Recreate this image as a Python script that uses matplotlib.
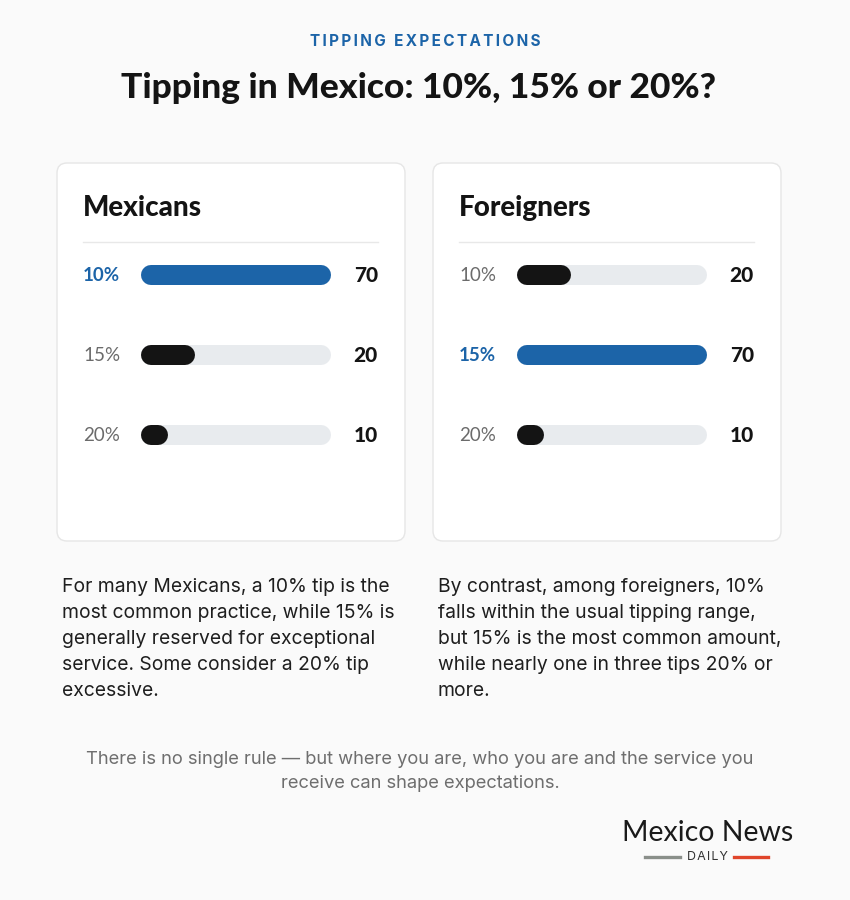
import matplotlib.pyplot as plt
from matplotlib.patches import FancyBboxPatch
from matplotlib import transforms

# data
tiers = ["10%", "15%", "20%"]
mexicans = [70, 20, 10]
foreigners = [20, 70, 10]
groups = ["Mexicans", "Foreigners"]

left_note = ["For many Mexicans, a 10% tip is the",
             "most common practice, while 15% is",
             "generally reserved for exceptional",
             "service. Some consider a 20% tip",
             "excessive."]
right_note = ["By contrast, among foreigners, 10%",
              "falls within the usual tipping range,",
              "but 15% is the most common amount,",
              "while nearly one in three tips 20% or",
              "more."]
footer = ["There is no single rule \u2014 but where you are, who you are and the service you",
          "receive can shape expectations."]

BLUE = "#1c64a8"
BLACK = "#141414"
TRACK = "#e8ebee"
BG = "#fafafa"
W, H = 850, 900

fig = plt.figure(figsize=(8.5, 9), dpi=100, facecolor=BG)
base = fig.add_axes([0, 0, 1, 1])
base.set_xlim(0, W)
base.set_ylim(H, 0)
base.axis("off")

head_font = ["Lato", "DejaVu Sans"]
body_font = ["Inter", "DejaVu Sans"]

base.text(W / 2, 41, "\u2009".join("TIPPING EXPECTATIONS"), ha="center", va="center",
          fontsize=11, fontweight="bold", color=BLUE, family=body_font)
base.text(W / 2 - 6, 88, "Tipping in Mexico: 10%, 15% or 20%?", ha="center", va="center",
          fontsize=25.5, fontweight="black", color=BLACK, family=head_font)

card_x = [57, 433]
card_w = 348
vmax = max(max(mexicans), max(foreigners))

for k, (name, vals) in enumerate(zip(groups, [mexicans, foreigners])):
    cx = card_x[k]
    base.add_patch(FancyBboxPatch((cx, 163), card_w, 378,
                                  boxstyle="round,pad=0,rounding_size=10",
                                  facecolor="white", edgecolor="#e6e6e6", lw=1))
    base.text(cx + 26, 208, name, ha="left", va="center", fontsize=20,
              fontweight="black", color=BLACK, family=head_font)
    base.plot([cx + 26, cx + 321], [242, 242], color="#e8e8e8", lw=1)

    # bar axes: track spans 190 px, rows 80 px apart
    tx0 = cx + 84
    tw = 190
    ax = fig.add_axes([tx0 / W, 1 - 475 / H, tw / W, 240 / H])
    ax.set_xlim(0, vmax)
    ax.set_ylim(len(tiers) - 0.5, -0.5)
    ax.axis("off")
    r = 10 * vmax / tw  # half bar height in data units
    lw = 20 * 72 / 100
    top = vals.index(max(vals))
    tr = transforms.blended_transform_factory(base.transData, ax.transData)
    for i, (t, v) in enumerate(zip(tiers, vals)):
        ax.plot([r, vmax - r], [i, i], color=TRACK, lw=lw, solid_capstyle="round")
        ax.plot([r, v - r], [i, i], color=BLUE if i == top else BLACK, lw=lw,
                solid_capstyle="round")
        if i == top:
            ax.text(cx + 26, i + 0.01, t, transform=tr, ha="left", va="center", fontsize=13.5,
                    fontweight="bold", color=BLUE, family=head_font, clip_on=False)
        else:
            ax.text(cx + 26, i + 0.01, t, transform=tr, ha="left", va="center", fontsize=13.5,
                    color="#6b6b6b", family=head_font, clip_on=False)
        ax.text(cx + 321, i, str(v), transform=tr, ha="right", va="center", fontsize=15,
                fontweight="black", color=BLACK, family=head_font, clip_on=False)

for k, lines in enumerate([left_note, right_note]):
    for j, line in enumerate(lines):
        base.text(card_x[k] + 5, 587 + 26 * j, line, ha="left", va="center",
                  fontsize=13.9, color="#1e1e1e", family=body_font)

for j, line in enumerate(footer):
    base.text(W / 2 - 5, 759 + 24 * j, line, ha="center", va="center",
              fontsize=13.2, color="#6e6e6e", family=body_font)

# logo
base.text(708, 833, "Mexico News", ha="center", va="center", fontsize=20.5,
          fontweight="normal", color="#1a1a1a", family=head_font)
base.text(707, 857, "\u200a".join("DAILY"), ha="center", va="center", fontsize=9,
          color="#333333", family=body_font)
base.plot([645, 680], [857, 857], color="#8a8f8a", lw=2.4)
base.plot([734, 768], [857, 857], color="#e0452b", lw=2.4)

fig.savefig("out.png", dpi=100, facecolor=BG)
